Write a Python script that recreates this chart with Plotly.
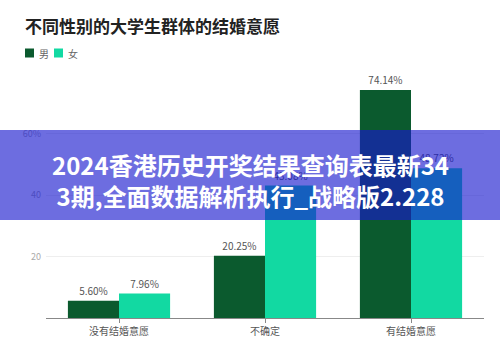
import plotly.graph_objects as go

categories = ["没有结婚意愿", "不确定", "有结婚意愿"]
male = [5.60, 20.25, 74.14]
female = [7.96, 43.08, 48.72]
series_names = ["男", "女"]
ytick_vals = [20, 40, 60]
ytick_text = ["20", "40", "60%"]

title = "不同性别的大学生群体的结婚意愿"
banner = "2024香港历史开奖结果查询表最新34<br>3期,全面数据解析执行_战略版2.228"

C_M = "#0b5a2e"
C_F = "#12d9a2"
FONT = "Noto Sans CJK SC"

W, H = 500, 350
L, R, T, B = 46, 16, 72, 32
pw, ph = W - L - R, H - T - B

def px(x):
    return (x - L) / pw

def py(y):
    return (H - B - y) / ph

fig = go.Figure()
for name, vals, col in [(series_names[0], male, C_M), (series_names[1], female, C_F)]:
    fig.add_trace(go.Bar(
        x=categories, y=vals, name=name, marker_color=col, marker_line_width=0,
        text=[f"{v:.2f}%" for v in vals], textposition="outside",
        textfont=dict(size=10, color="#555555", family=FONT),
        cliponaxis=False, showlegend=False,
    ))

shapes = []
annotations = []
# manual legend
for i, (name, col) in enumerate([(series_names[0], C_M), (series_names[1], C_F)]):
    x0 = 25 + i * 29
    shapes.append(dict(type="rect", xref="paper", yref="paper",
                       x0=px(x0), x1=px(x0 + 9), y0=py(57.5), y1=py(48.5),
                       fillcolor=col, line_width=0, layer="above"))
    annotations.append(dict(text=name, xref="paper", yref="paper", x=px(x0 + 12), y=py(53),
                            xanchor="left", yanchor="middle", showarrow=False,
                            font=dict(size=10, color="#666666", family=FONT)))

# banner overlay
shapes.append(dict(type="rect", xref="paper", yref="paper",
                   x0=px(0), x1=px(500), y0=py(220), y1=py(130),
                   fillcolor="rgba(23,23,206,0.63)", line_width=0, layer="above"))
annotations.append(dict(text=banner, xref="paper", yref="paper", x=px(250), y=py(179.5),
                        xanchor="center", yanchor="middle", showarrow=False, align="center",
                        font=dict(size=24, color="white", family=FONT, weight="bold")))

fig.update_layout(
    width=W, height=H,
    margin=dict(l=L, r=R, t=T, b=B),
    paper_bgcolor="white", plot_bgcolor="white",
    barmode="group", bargap=0.3, bargroupgap=0,
    title=dict(text=title, x=25 / W, xanchor="left", y=1 - 27.5 / H, yanchor="middle",
               font=dict(size=17, color="#222222", family=FONT, weight="bold")),
    shapes=shapes, annotations=annotations,
    font=dict(family=FONT),
)
fig.update_xaxes(showline=True, linecolor="#888888", linewidth=1,
                 ticks="outside", ticklen=4, tickcolor="#888888",
                 tickfont=dict(size=10, color="#555555"), showgrid=False)
fig.update_yaxes(range=[0, 80], tickvals=ytick_vals, ticktext=ytick_text,
                 showgrid=True, gridcolor="#eeeeee", zeroline=False,
                 tickfont=dict(size=9, color="#aaaaaa"), ticklabelstandoff=4)

fig.write_html("out.html")
